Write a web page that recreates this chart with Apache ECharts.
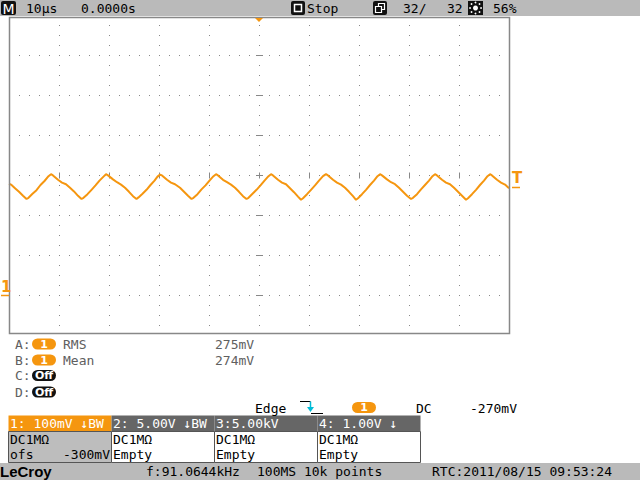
<!DOCTYPE html>
<html><head><meta charset="utf-8">
<script src="https://cdn.jsdelivr.net/npm/echarts@6/dist/echarts.min.js"></script>
<style>html,body{margin:0;padding:0;background:#fff}#c{width:640px;height:480px}</style>
</head><body><div id="c"></div>
<script>
// ---- data (time in µs, channel 1 voltage in mV) ----
const timeUs = [
 -50.0,-49.6,-48.8,-48.0,-47.2,
 -46.5,-46.1,-45.3,-44.5,-43.7,-42.9,-42.1,-41.6,-41.2,-40.2,-39.4,-38.6,-37.8,-37.0,-36.2,
 -35.5,-35.1,-34.3,-33.5,-32.7,-31.9,-31.1,-30.6,-30.2,-29.2,-28.4,-27.6,-26.8,-26.0,-25.2,
 -24.5,-24.1,-23.3,-22.5,-21.7,-20.9,-20.3,-19.8,-19.4,-18.4,-17.6,-16.8,-15.8,-15.0,-14.2,
 -13.5,-13.1,-12.3,-11.5,-10.7,-9.9,-9.1,-8.6,-8.2,-7.2,-6.4,-5.6,-4.8,-4.0,-3.2,
 -2.5,-2.1,-1.3,-0.5,0.3,1.1,1.9,2.4,2.8,3.8,4.6,5.4,6.2,7.0,7.8,
 8.4,8.8,9.6,10.4,11.2,12.0,12.8,13.4,13.8,14.8,15.6,16.4,17.2,18.0,18.8,
 19.4,19.8,20.6,21.4,22.2,23.0,23.7,24.2,24.6,25.6,26.4,27.2,28.0,28.8,29.6,
 30.4,30.8,31.6,32.4,33.2,34.0,34.7,35.2,35.6,36.6,37.4,38.2,39.0,39.8,40.6,
 41.4,41.8,42.6,43.4,44.2,45.0,45.7,46.2,46.6,47.6,48.4,49.2,50.0
];
const traceMv = [
 278,276,267,258,248,
 240,243,253,262,275,285,297,302,299,288,281,277,268,259,248,
 240,243,252,263,274,286,296,302,299,289,282,276,268,258,247,
 240,244,253,263,275,286,296,301,299,288,281,277,268,258,248,
 240,243,252,264,274,286,297,302,299,288,282,276,268,258,247,
 240,243,253,263,274,286,297,302,299,288,281,277,267,257,246,
 238,242,252,263,274,286,297,302,299,288,281,276,268,258,247,
 238,242,252,263,275,286,297,302,299,289,282,277,268,258,248,
 240,243,252,264,275,286,297,302,299,288,281,277,268,258,248,
 238,242,252,263,275,286,297,302,299,288,281,276,267
];
const xTicks = {min:-50, max:50, step:10};      // 10 µs/div
const yTicks = {min:-100, max:700, step:100};   // 100 mV/div, offset -300 mV
const topBar = ["10µs", "0.0000s", "Stop", "32/", "32", "56%"];
const measLabels = ["A:", "B:", "C:", "D:"];
const measNames = ["RMS", "Mean"];
const measValues = ["275mV", "274mV"];
const trigger = ["Edge", "1", "DC", "-270mV"];
const chHeaders = ["1: 100mV ↓BW", "2: 5.00V ↓BW", "3:5.00kV", "4: 1.00V ↓"];
const chLine1 = ["DC1MΩ", "DC1MΩ", "DC1MΩ", "DC1MΩ"];
const chLine2 = ["ofs", "Empty", "Empty", "Empty"];
const status = ["LeCroy", "f:91.0644kHz", "100MS 10k points", "RTC:2011/08/15 09:53:24"];

const ORANGE = '#f5960f';
const MONO = '13px "DejaVu Sans Mono"';
const chart = echarts.init(document.getElementById('c'), null, {renderer:'svg'});

function txt(x, y, s, fill, font, align) {
  return {type:'text', x:x, y:y, z:100, silent:true,
    style:{text:s, fill:fill||'#000', font:font||MONO, align:align||'left', verticalAlign:'middle'}};
}
function rect(x, y, w, h, fill, stroke, r, lw) {
  return {type:'rect', z:90, silent:true, shape:{x:x, y:y, width:w, height:h, r:r||0},
    style:{fill:fill||'none', stroke:stroke||null, lineWidth:lw||1}};
}
function line(x1, y1, x2, y2, stroke, lw, z) {
  return {type:'line', z:z||95, silent:true, shape:{x1:x1, y1:y1, x2:x2, y2:y2},
    style:{stroke:stroke, lineWidth:lw||1}};
}

const g = [];
// top bar
g.push(rect(0, 0, 640, 16, '#bababa'));
g.push(rect(1, 1, 15, 14, '#111', null, 2));
g.push(txt(8.5, 8.5, 'M', '#fff', '14px "DejaVu Sans"', 'center'));
g.push(txt(26, 8, topBar[0]));
g.push(txt(81, 8, topBar[1]));
g.push(rect(291, 1, 14, 14, '#111', null, 2));
g.push(rect(294.5, 4.5, 7, 7, '#111', '#fff', 0, 1.5));
g.push(txt(307, 8, topBar[2]));
g.push(rect(373, 1, 14, 14, '#111', null, 2));
g.push(rect(378.5, 3.5, 6, 6, '#111', '#fff', 0, 1.2));
g.push(rect(375.5, 6.5, 6, 6, '#111', '#fff', 0, 1.2));
g.push(txt(403, 8, topBar[3]));
g.push(txt(447, 8, topBar[4]));
g.push(rect(468, 1, 15, 14, '#111', null, 0));
g.push({type:'circle', z:96, silent:true, shape:{cx:475.5, cy:8, r:2.5}, style:{fill:'#fff'}});
[[475.5,2.5],[475.5,13.5],[470,8],[481,8],[471.5,4],[479.5,4],[471.5,12],[479.5,12]].forEach(p =>
  g.push({type:'circle', z:96, silent:true, shape:{cx:p[0], cy:p[1], r:0.9}, style:{fill:'#fff'}}));
g.push(txt(493, 8, topBar[5]));

// plot frame
g.push(rect(9.5, 17.5, 500, 316, 'none', '#888', 0, 1.5));
// trigger position marker
g.push({type:'polygon', z:96, silent:true, shape:{points:[[255,18],[263,18],[259,22]]}, style:{fill:ORANGE}});
// trigger level marker "T"
g.push(txt(512, 178, 'T', ORANGE, 'bold 15px "DejaVu Sans"'));
g.push(line(512, 187.5, 520, 187.5, ORANGE, 1.5));
// channel 1 ground marker
g.push(txt(1, 287, '1', ORANGE, 'bold 15px "DejaVu Sans"'));
g.push(line(1, 295.5, 9, 295.5, ORANGE, 1.5));
// center-line tick marks
for (let k = 1; k < 10; k++) { const x = 9.5 + 50*k; g.push(line(x, 172.5, x, 178.5, '#888', 1, 5)); }
for (let k = 1; k < 8; k++) { const y = 15.5 + 40*k; g.push(line(256, y, 263, y, '#888', 1, 5)); }

// measurements
const rowY = [344, 360, 375.5, 392];
for (let i = 0; i < 4; i++) {
  g.push(txt(15, rowY[i], measLabels[i], '#606060'));
  if (i < 2) {
    g.push(rect(32, rowY[i]-5.5, 24, 11, ORANGE, null, 5.5));
    g.push(txt(44, rowY[i], '1', '#fff', 'bold 11px "DejaVu Sans"', 'center'));
    g.push(txt(63, rowY[i], measNames[i], '#606060'));
    g.push(txt(215, rowY[i], measValues[i], '#606060'));
  } else {
    g.push(rect(32, rowY[i]-5.5, 24, 11, '#111', null, 5.5));
    g.push(txt(44, rowY[i], 'Off', '#fff', 'bold 11px "DejaVu Sans"', 'center'));
  }
}
// trigger line
g.push(txt(255, 408, trigger[0]));
g.push(line(300, 401.5, 310.5, 401.5, '#000', 1));
g.push(line(311, 413.5, 323, 413.5, '#000', 1));
g.push(line(310.5, 401.5, 310.5, 409, '#00bcd8', 1.5, 97));
g.push({type:'polygon', z:97, silent:true, shape:{points:[[307,407],[314,407],[310.5,412]]}, style:{fill:'#00bcd8'}});
g.push(rect(352, 402, 24, 11, ORANGE, null, 5.5));
g.push(txt(364, 407.5, trigger[1], '#fff', 'bold 11px "DejaVu Sans"', 'center'));
g.push(txt(416, 408, trigger[2]));
g.push(txt(470, 408, trigger[3]));

// channel boxes
const boxX = [8, 111, 214, 317];
const boxW = [103, 103, 103, 103];
for (let i = 0; i < 4; i++) {
  g.push(rect(boxX[i]+0.5, 415.5, boxW[i], 16, i === 0 ? ORANGE : '#666'));
  g.push(rect(boxX[i]+0.5, 431.5, boxW[i], 31, i === 0 ? '#bdbdbd' : '#fff', '#555', 0, 1));
  g.push(txt(boxX[i]+2, 423.5, chHeaders[i], '#fff'));
  g.push(txt(boxX[i]+2, 439, chLine1[i], '#000'));
  g.push(txt(boxX[i]+2, 454, chLine2[i], '#000'));
}
g.push(txt(110, 454, '-300mV', '#000', MONO, 'right'));

// status bar
g.push(rect(0, 463, 640, 17, '#bababa'));
g.push(txt(0, 471.5, status[0], '#000', 'bold 15px "Liberation Sans"'));
g.push(txt(146, 471.5, status[1]));
g.push(txt(257, 471.5, status[2]));
g.push(txt(432, 471.5, status[3]));

chart.setOption({
  animation: false,
  backgroundColor: '#fff',
  grid: {left: 9, right: 131, top: 15, bottom: 145, containLabel: false},
  xAxis: {type:'value', min:xTicks.min, max:xTicks.max, interval:xTicks.step,
    axisLine:{show:false}, axisTick:{show:false}, axisLabel:{show:false},
    splitLine:{show:true, showMinLine:false, showMaxLine:false, lineStyle:{color:'#888', width:1, type:[1,9]}}},
  yAxis: {type:'value', min:yTicks.min, max:yTicks.max, interval:yTicks.step,
    axisLine:{show:false}, axisTick:{show:false}, axisLabel:{show:false},
    splitLine:{show:true, showMinLine:false, showMaxLine:false, lineStyle:{color:'#888', width:1, type:[1,9]}}},
  series: [{
    type:'line', name:'CH1', showSymbol:false, clip:true, z:10,
    data: timeUs.map((t, i) => [t, traceMv[i]]),
    lineStyle:{color:ORANGE, width:2}
  }],
  graphic: g
});
</script></body></html>
